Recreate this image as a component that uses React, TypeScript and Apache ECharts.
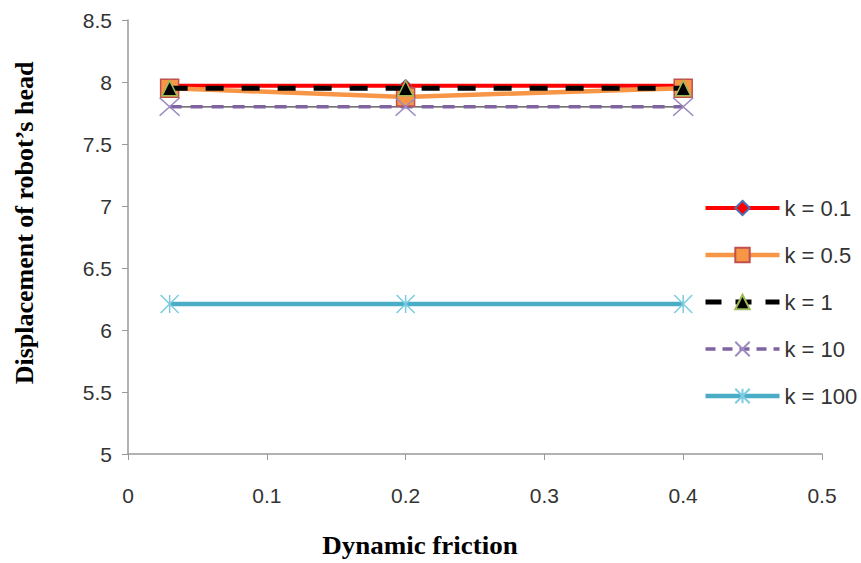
import React, { useEffect, useRef } from "react";
import * as echarts from "echarts";

const xValues = [0.03, 0.2, 0.4];
const seriesNames = ["k = 0.1", "k = 0.5", "k = 1", "k = 10", "k = 100"];
const k01 = [7.97, 7.97, 7.97];
const k05 = [7.95, 7.88, 7.95];
const k1 = [7.95, 7.95, 7.95];
const k10 = [7.8, 7.8, 7.8];
const k100 = [6.21, 6.21, 6.21];
const xTitle = "Dynamic friction";
const yTitle = "Displacement of robot\u2019s head";

const pairs = (ys: number[]) => xValues.map((x, i) => [x, ys[i]]);

export default function App() {
  const ref = useRef<HTMLDivElement>(null);
  useEffect(() => {
    if (!ref.current) return;
    const chart = echarts.init(ref.current, null, { renderer: "svg" });
    const axisLabel = { fontFamily: "Liberation Sans", fontSize: 21, color: "#333" };
    const legendWidths = [4, 4.5, 5, 3.5, 4.5];
    const legendTypes: any[] = ["solid", "solid", [16, 14], [10, 7], "solid"];
    chart.setOption({
      animation: false,
      backgroundColor: "#fff",
      grid: { left: 128, right: 39, top: 20, bottom: 109 },
      xAxis: {
        type: "value",
        min: 0,
        max: 0.5,
        interval: 0.1,
        splitLine: { show: false },
        axisLine: { lineStyle: { color: "#999", width: 1.5 } },
        axisTick: { show: true, length: 6, lineStyle: { color: "#999" } },
        axisLabel: { ...axisLabel, margin: 31 },
      },
      yAxis: {
        type: "value",
        min: 5,
        max: 8.5,
        interval: 0.5,
        splitLine: { show: false },
        axisLine: { show: true, lineStyle: { color: "#999", width: 1.5 } },
        axisTick: { show: true, length: 6, lineStyle: { color: "#999" } },
        axisLabel: { ...axisLabel, margin: 16 },
      },
      legend: {
        orient: "vertical",
        left: 698,
        top: 192,
        itemWidth: 74,
        itemHeight: 18,
        itemGap: 25,
        itemTextGap: 5,
        data: seriesNames.map((n, i) => ({
          name: n,
          lineStyle: { width: legendWidths[i], type: legendTypes[i] },
        })),
        textStyle: { fontFamily: "Liberation Sans", fontSize: 22, color: "#333", lineHeight: 20 },
      },
      graphic: [
        {
          type: "text",
          x: 25,
          y: 223,
          rotation: Math.PI / 2,
          scaleX: 1.04,
          style: {
            text: yTitle,
            font: "bold 25px 'Liberation Serif'",
            fill: "#000",
            align: "center",
            verticalAlign: "middle",
          },
        },
        {
          type: "text",
          x: 420,
          y: 546,
          scaleX: 1.08,
          style: {
            text: xTitle,
            font: "bold 25px 'Liberation Serif'",
            fill: "#000",
            align: "center",
            verticalAlign: "middle",
          },
        },
      ],
      series: [
        {
          name: seriesNames[0],
          type: "line",
          data: pairs(k01),
          symbol: "diamond",
          symbolSize: 13,
          lineStyle: { color: "#ff0000", width: 4 },
          itemStyle: { color: "#ff0000", borderColor: "#4f6fb0", borderWidth: 1 },
          z: 2,
        },
        {
          name: seriesNames[1],
          type: "line",
          data: pairs(k05),
          symbol: "rect",
          symbolSize: 18,
          lineStyle: { color: "#f79646", width: 4.5 },
          itemStyle: { color: "#f79646", borderColor: "#c0504d", borderWidth: 1.5 },
          z: 3,
        },
        {
          name: seriesNames[2],
          type: "line",
          data: pairs(k1),
          symbol: "triangle",
          symbolSize: 15,
          lineStyle: { color: "#000", width: 5, type: [18, 18] },
          itemStyle: { color: "#000", borderColor: "#9bbb59", borderWidth: 1.5 },
          z: 4,
        },
        {
          name: seriesNames[3] + " ",
          type: "line",
          data: pairs(k10),
          symbol: "none",
          lineStyle: { color: "#444", width: 1.2 },
          z: 2,
        },
        {
          name: seriesNames[3],
          type: "line",
          data: pairs(k10),
          symbol: "path://M0,0L20,18M20,0L0,18",
          symbolSize: [20, 18],
          lineStyle: { color: "#8064a2", width: 3.5, type: [12, 9] },
          itemStyle: { color: "#8064a2", borderColor: "#9d8bc0", borderWidth: 1.5 },
          z: 3,
        },
        {
          name: seriesNames[4],
          type: "line",
          data: pairs(k100),
          symbol: "path://M0,0L20,20M20,0L0,20M10,0L10,20",
          symbolSize: 18,
          lineStyle: { color: "#4bacc6", width: 4.5 },
          itemStyle: { color: "#4bacc6", borderColor: "#7ccbe0", borderWidth: 1.5 },
          z: 3,
        },
      ],
    });
    return () => chart.dispose();
  }, []);
  return <div ref={ref} style={{ width: 861, height: 563, position: "absolute", left: 0, top: 0 }} />;
}
